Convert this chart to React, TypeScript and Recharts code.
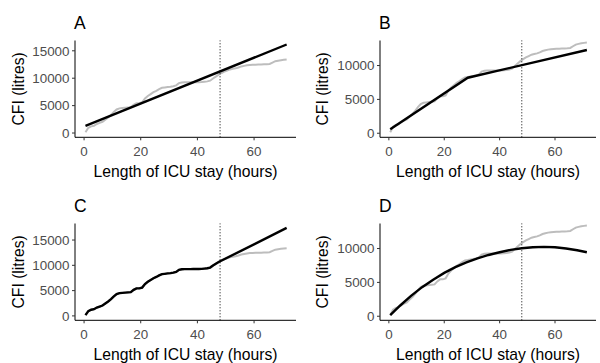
import { LineChart, Line, XAxis, YAxis, ReferenceLine, Label } from 'recharts';

// hours of ICU stay (observations every hour)
const hours = [
  0.5, 1.5, 2.5, 3.5, 4.5, 5.5, 6.5, 7.5, 8.5, 9.5, 10.5, 11.5,
  12.5, 13.5, 14.5, 15.5, 16.5, 17.5, 18.5, 19.5, 20.5, 21.5, 22.5, 23.5,
  24.5, 25.5, 26.5, 27.5, 28.5, 29.5, 30.5, 31.5, 32.5, 33.5, 34.5, 35.5,
  36.5, 37.5, 38.5, 39.5, 40.5, 41.5, 42.5, 43.5, 44.5, 45.5, 46.5, 47.5,
  48.5, 49.5, 50.5, 51.5, 52.5, 53.5, 54.5, 55.5, 56.5, 57.5, 58.5, 59.5,
  60.5, 61.5, 62.5, 63.5, 64.5, 65.5, 66.5, 67.5, 68.5, 69.5, 70.5, 71.5,
];

// observed cumulative fluid intake (litres)
const observed = [
  150, 950, 1220, 1320, 1650, 1850, 2050, 2450, 2850, 3300, 3850, 4300,
  4500, 4550, 4600, 4650, 4700, 5150, 5450, 5450, 5600, 6300, 6750, 7100,
  7450, 7700, 8000, 8250, 8320, 8400, 8450, 8550, 8700, 9100, 9220, 9250,
  9250, 9250, 9260, 9260, 9270, 9290, 9350, 9420, 9550, 9950, 10300, 10650,
  10950, 11200, 11400, 11600, 11700, 11800, 11950, 12150, 12250, 12350, 12420, 12450,
  12470, 12490, 12510, 12530, 12550, 12600, 12850, 13100, 13200, 13280, 13350, 13400,
];

// fitted curves
const fitAHours = [0.5, 71.5];
const fitAValues = [1300, 16150];

const fitBHours = [0.5, 28.5, 71.5];
const fitBValues = [600, 8200, 12300];

const fitCHours = [71.5];
const fitCValues = [17400];

const fitDHours = [0.5, 4, 8, 12, 16, 20, 24, 28, 32, 36, 40, 44, 48, 52, 56, 60, 64, 68, 71.5];
const fitDValues = [150, 1550, 3000, 4300, 5400, 6400, 7250, 7950, 8550, 9050, 9450, 9800, 10050, 10200, 10250, 10200, 10000, 9750, 9450];

const xTicks = [0, 20, 40, 60];
const cutoff = 48;

const toPoints = (xs: number[], ys: number[]) => xs.map((h, i) => ({ h, v: ys[i] }));

const observedPts = toPoints(hours, observed);
const fitC = [...observedPts.filter((p) => p.h < cutoff), ...toPoints(fitCHours, fitCValues)];

const FONT = '"Liberation Sans", Arial, sans-serif';

interface PanelProps {
  title: string;
  left: number;
  top: number;
  axisWidth: number;
  labelDx: number;
  yDomain: [number, number];
  yTicks: number[];
  fit: { h: number; v: number }[];
}

const panels: PanelProps[] = [
  { title: 'A', left: 0, top: 0, axisWidth: 75, labelDx: -19, yDomain: [-780, 16880], yTicks: [0, 5000, 10000, 15000], fit: toPoints(fitAHours, fitAValues) },
  { title: 'B', left: 300, top: 0, axisWidth: 80, labelDx: -18, yDomain: [-600, 13700], yTicks: [0, 5000, 10000], fit: toPoints(fitBHours, fitBValues) },
  { title: 'C', left: 0, top: 183, axisWidth: 75, labelDx: -19, yDomain: [-870, 18270], yTicks: [0, 5000, 10000, 15000], fit: fitC },
  { title: 'D', left: 300, top: 183, axisWidth: 80, labelDx: -18, yDomain: [-600, 13700], yTicks: [0, 5000, 10000], fit: toPoints(fitDHours, fitDValues) },
];

const tickStyle = { fontSize: 13.4, fill: '#4D4D4D', fontFamily: FONT };

const Panel = ({ left, top, axisWidth, labelDx, yDomain, yTicks, fit }: PanelProps) => (
  <div style={{ position: 'absolute', left, top }}>
    <LineChart width={300} height={180} margin={{ top: 40.5, right: 4, bottom: 0, left: 0 }}>
      <XAxis
        dataKey="h"
        type="number"
        domain={[-3.2, 74.8]}
        ticks={xTicks}
        height={42.7}
        tick={tickStyle}
        tickSize={3}
        tickMargin={6}
        axisLine={{ stroke: '#000', strokeWidth: 1 }}
        tickLine={{ stroke: '#333' }}
      >
        <Label
          value="Length of ICU stay (hours)"
          position="insideBottom"
          offset={3.3}
          style={{ fontSize: 15.7, fill: '#000', fontFamily: FONT }}
        />
      </XAxis>
      <YAxis
        type="number"
        domain={yDomain}
        ticks={yTicks}
        width={axisWidth}
        tick={tickStyle}
        tickSize={3}
        tickMargin={2.5}
        axisLine={{ stroke: '#000', strokeWidth: 1 }}
        tickLine={{ stroke: '#333' }}
      >
        <Label
          value="CFI (litres)"
          angle={-90}
          position="center"
          dx={labelDx}
          style={{ fontSize: 15.7, fill: '#000', fontFamily: FONT }}
        />
      </YAxis>
      <Line
        data={observedPts}
        dataKey="v"
        type="linear"
        stroke="#BDBDBD"
        strokeWidth={2}
        dot={false}
        isAnimationActive={false}
      />
      <Line
        data={fit}
        dataKey="v"
        type="linear"
        stroke="#000"
        strokeWidth={2.4}
        dot={false}
        isAnimationActive={false}
      />
      <ReferenceLine x={cutoff} stroke="#000" strokeWidth={1} strokeDasharray="1 2" />
    </LineChart>
  </div>
);

export default function App() {
  return (
    <div style={{ position: 'absolute', left: 0, top: 0, width: 600, height: 363, background: '#fff', overflow: 'hidden' }}>
      {panels.map((p) => (
        <Panel key={p.title} {...p} />
      ))}
      <svg width={600} height={363} style={{ position: 'absolute', left: 0, top: 0, pointerEvents: 'none' }}>
        {panels.map((p) => (
          <text key={p.title} x={p.left + p.axisWidth - 1} y={p.top + 29.3} fontSize={17.5} fontFamily={FONT} fill="#000">
            {p.title}
          </text>
        ))}
      </svg>
    </div>
  );
}
